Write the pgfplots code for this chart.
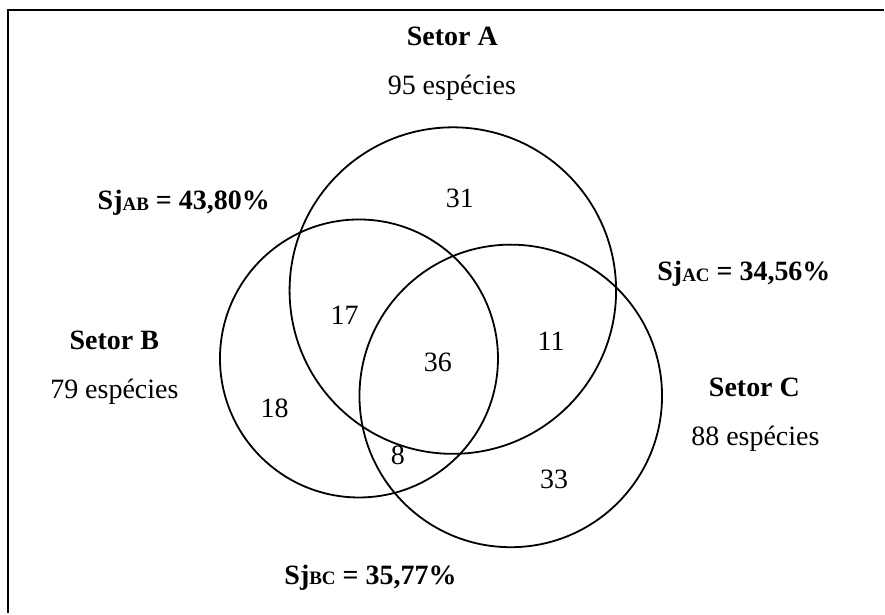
\documentclass[border=0pt]{standalone}
\usepackage{fontspec}
\setmainfont{Liberation Serif}
\usepackage{pgfplots}
\pgfplotsset{compat=1.18}
\newcommand\sub[1]{\raisebox{-0.4pt}{\fontsize{9.5}{10}\selectfont #1}}
\newcommand\lbl[1]{\fontsize{14}{16.8}\selectfont #1}
\tikzset{lab/.style={inner sep=0pt, anchor=base}}
\begin{document}
\begin{tikzpicture}
\begin{axis}[
  hide axis, scale only axis,
  width=442.5pt, height=307pt,
  xmin=0, xmax=885, ymin=0, ymax=614,
  y dir=reverse, clip=false,
]
% invisible extent of the whole picture
\addplot[draw=none, mark=none] coordinates {(0,0) (885,614)};
\path (axis cs:0,0) rectangle (axis cs:885,614);
% frame (top and left edges)
\addplot[black, line width=1.3pt] coordinates {(8,614) (8,10) (885,10)};
% circles: centre, radius (A 163.5, B 139.25, C 151.5 units; 0.5pt per unit)
\addplot[only marks, mark=o, mark size=81.75pt, mark options={line width=0.9pt, black}] coordinates {(453.5,291)};
\addplot[only marks, mark=o, mark size=69.6pt, mark options={line width=0.9pt, black}] coordinates {(359.5,359)};
\addplot[only marks, mark=o, mark size=75.75pt, mark options={line width=0.9pt, black}] coordinates {(511.5,396.5)};
% labels
\node[lab] at (axis cs:453,46) {\lbl{\textbf{Setor A}}};
\node[lab] at (axis cs:452.5,95) {\lbl{95 espécies}};
\node[lab] at (axis cs:114.5,350) {\lbl{\textbf{Setor B}}};
\node[lab] at (axis cs:114.5,399) {\lbl{79 espécies}};
\node[lab] at (axis cs:755.5,397) {\lbl{\textbf{Setor C}}};
\node[lab] at (axis cs:756.5,446) {\lbl{88 espécies}};
\node[lab] at (axis cs:184,210) {\lbl{\textbf{Sj\sub{AB} = 43,80\%}}};
\node[lab] at (axis cs:745,281) {\lbl{\textbf{Sj\sub{AC} = 34,56\%}}};
\node[lab] at (axis cs:371,585) {\lbl{\textbf{Sj\sub{BC} = 35,77\%}}};
% region counts
\node[lab] at (axis cs:460.5,208) {\lbl{31}};
\node[lab] at (axis cs:345,325) {\lbl{17}};
\node[lab] at (axis cs:438.5,372) {\lbl{36}};
\node[lab] at (axis cs:552,351) {\lbl{11}};
\node[lab] at (axis cs:275,418) {\lbl{18}};
\node[lab] at (axis cs:398.5,465) {\lbl{8}};
\node[lab] at (axis cs:555,489) {\lbl{33}};
\end{axis}
\end{tikzpicture}
\end{document}
